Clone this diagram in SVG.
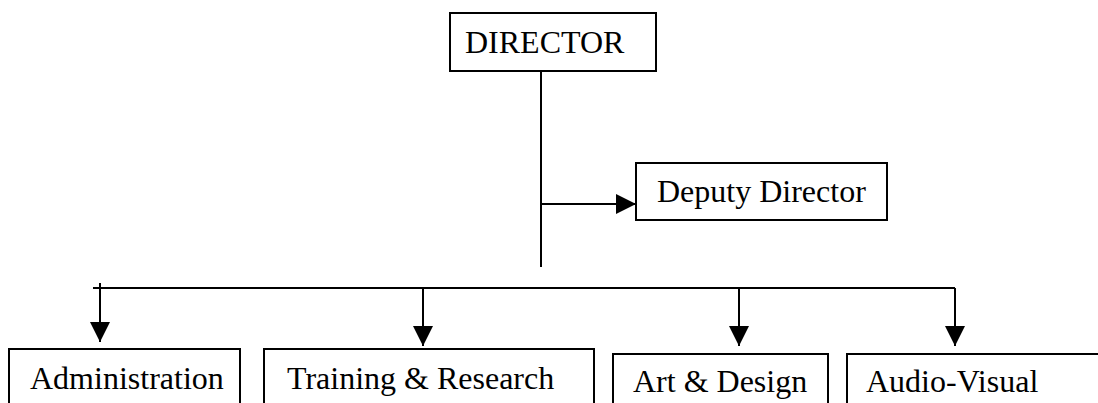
<svg xmlns="http://www.w3.org/2000/svg" width="1098" height="403" viewBox="0 0 1098 403">
<defs>
<style>
.box{fill:#fff;stroke:#000;stroke-width:2}
.t{font-family:"Liberation Serif","Times New Roman",serif;font-size:32px;fill:#000}
.ln{stroke:#000;stroke-width:2;fill:none}
</style>
<marker id="ah" viewBox="0 0 20 20" refX="20" refY="10" markerWidth="20" markerHeight="20" markerUnits="userSpaceOnUse" orient="auto">
<path d="M0,0 L20,10 L0,20 Z" fill="#000"/>
</marker>
</defs>
<rect width="1098" height="403" fill="#fff"/>
<g id="connectors">
<line class="ln" x1="541" y1="72" x2="541" y2="267"/>
<line class="ln" x1="541" y1="204" x2="636" y2="204" marker-end="url(#ah)"/>
<line class="ln" x1="93" y1="288" x2="955" y2="288"/>
<line class="ln" x1="100" y1="283" x2="100" y2="342" marker-end="url(#ah)"/>
<line class="ln" x1="423" y1="288" x2="423" y2="346" marker-end="url(#ah)"/>
<line class="ln" x1="739" y1="288" x2="739" y2="346" marker-end="url(#ah)"/>
<line class="ln" x1="955" y1="288" x2="955" y2="346" marker-end="url(#ah)"/>
</g>
<g id="director">
<rect class="box" x="450" y="13" width="206" height="58"/>
<text class="t" x="465" y="53">DIRECTOR</text>
</g>
<g id="deputy">
<rect class="box" x="636" y="163" width="251" height="57"/>
<text class="t" x="657" y="202">Deputy Director</text>
</g>
<g id="administration">
<rect class="box" x="9" y="349" width="231" height="70"/>
<text class="t" x="30" y="389">Administration</text>
</g>
<g id="training">
<rect class="box" x="264" y="349" width="330" height="70"/>
<text class="t" x="287" y="389">Training &amp; Research</text>
</g>
<g id="art">
<rect class="box" x="613" y="354" width="215" height="70"/>
<text class="t" x="633" y="392">Art &amp; Design</text>
</g>
<g id="audiovisual">
<rect class="box" x="847" y="354" width="270" height="70"/>
<text class="t" x="866" y="392">Audio-Visual</text>
</g>
</svg>
